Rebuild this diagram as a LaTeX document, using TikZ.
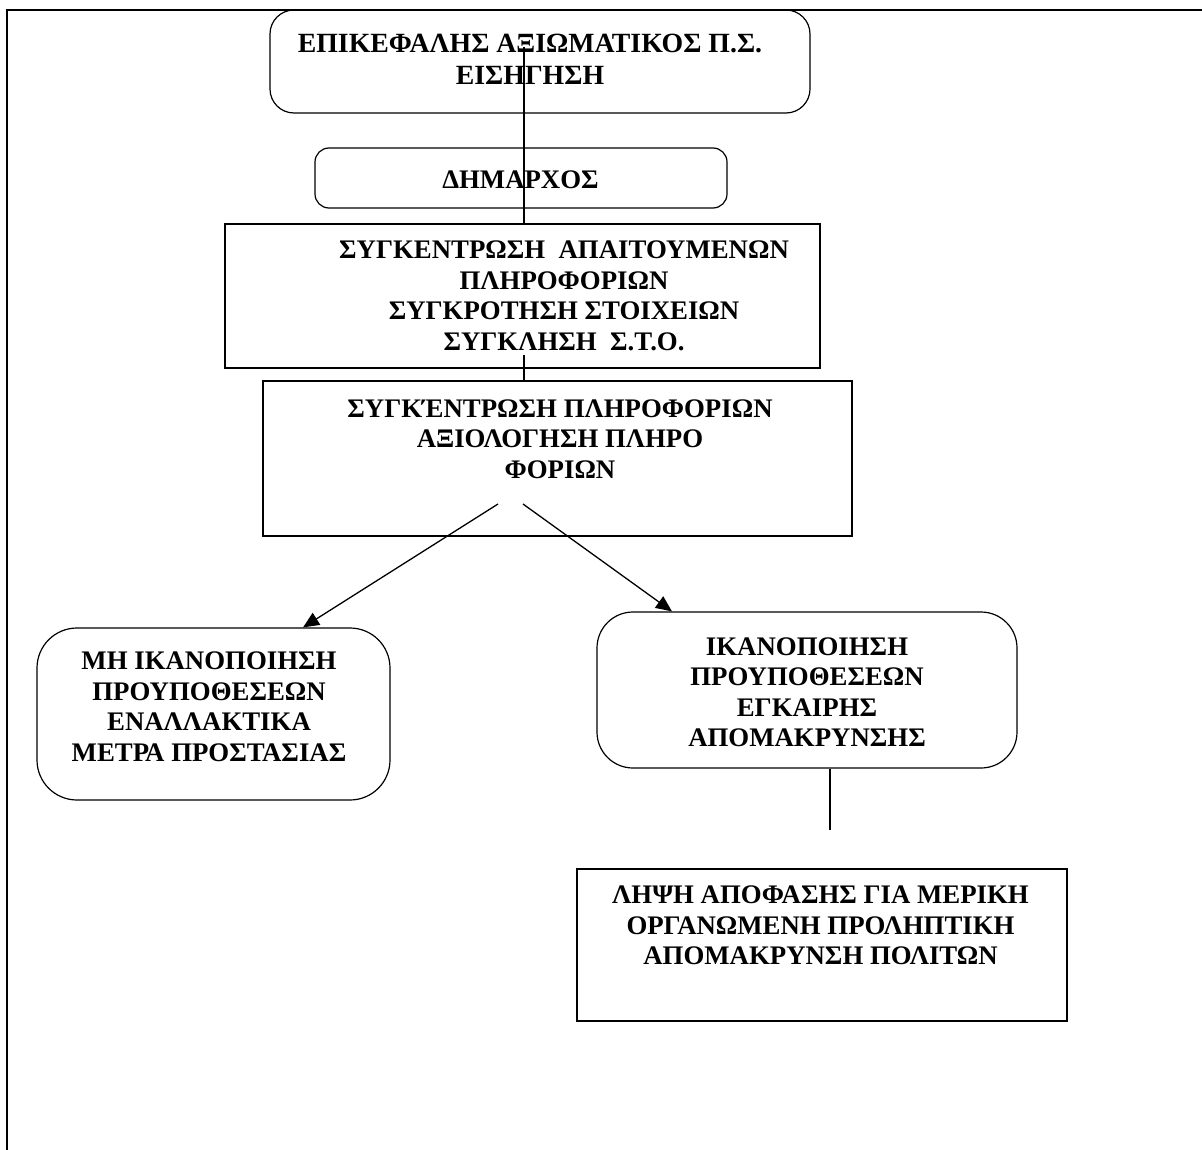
\documentclass[tikz,border=0pt]{standalone}
\usepackage{fontspec}
\setmainfont{Liberation Serif}
\usetikzlibrary{arrows.meta}
\begin{document}
\begin{tikzpicture}[x=1pt,y=-1pt,
  boxline/.style={draw=black,line width=1.2pt,inner sep=0pt},
  rbox/.style={boxline,rounded corners=#1},
  txt/.style={align=center,inner sep=0pt,font=\bfseries\fontsize{26.8}{30.5}\selectfont},
  conn/.style={line width=1.3pt},
  arr/.style={line width=1.3pt,-{Triangle[length=16pt,width=14pt]}}]
\useasboundingbox (0,0) rectangle (1202,1150);
% frame
\draw[line width=2.5pt] (1202,10) -- (7,10) -- (7,1150);
% boxes
\node[rbox=24pt,minimum width=540pt,minimum height=103pt] (b1) at (540,61.5) {};
\node[rbox=14pt,minimum width=412pt,minimum height=60pt] (b2) at (521,178) {};
\node[boxline,minimum width=595pt,minimum height=144pt] (b3) at (522.5,296) {};
\node[boxline,minimum width=589pt,minimum height=155pt] (b4) at (557.5,458.5) {};
\node[rbox=40pt,minimum width=353pt,minimum height=172pt] (b5) at (213.5,714) {};
\node[rbox=36pt,minimum width=420pt,minimum height=156pt] (b6) at (807,690) {};
\node[boxline,minimum width=490pt,minimum height=152pt] (b7) at (822,945) {};
% texts
\node[txt,font=\bfseries\fontsize{27.8}{32}\selectfont] (t1) at (530,59.5) {ΕΠΙΚΕΦΑΛΗΣ ΑΞΙΩΜΑΤΙΚΟΣ Π.Σ.\\ΕΙΣΗΓΗΣΗ};
\node[txt] (t2) at (520.5,180) {ΔΗΜΑΡΧΟΣ};
\node[txt] (t3) at (564,296) {ΣΥΓΚΕΝΤΡΩΣΗ\ \ ΑΠΑΙΤΟΥΜΕΝΩΝ\\ΠΛΗΡΟΦΟΡΙΩΝ\\ΣΥΓΚΡΟΤΗΣΗ ΣΤΟΙΧΕΙΩΝ\\ΣΥΓΚΛΗΣΗ\ \ Σ.Τ.Ο.};
\node[txt] (t4) at (560,439) {ΣΥΓΚΈΝΤΡΩΣΗ ΠΛΗΡΟΦΟΡΙΩΝ\\ΑΞΙΟΛΟΓΗΣΗ ΠΛΗΡΟ\\ΦΟΡΙΩΝ};
\node[txt] (t5) at (209,707) {ΜΗ ΙΚΑΝΟΠΟΙΗΣΗ\\ΠΡΟΥΠΟΘΕΣΕΩΝ\\ΕΝΑΛΛΑΚΤΙΚΑ\\ΜΕΤΡΑ ΠΡΟΣΤΑΣΙΑΣ};
\node[txt] (t6) at (807,692.5) {ΙΚΑΝΟΠΟΙΗΣΗ\\ΠΡΟΥΠΟΘΕΣΕΩΝ\\ΕΓΚΑΙΡΗΣ\\ΑΠΟΜΑΚΡΥΝΣΗΣ};
\node[txt] (t7) at (820.5,925.5) {ΛΗΨΗ ΑΠΟΦΑΣΗΣ ΓΙΑ ΜΕΡΙΚΗ\\ΟΡΓΑΝΩΜΕΝΗ ΠΡΟΛΗΠΤΙΚΗ\\ΑΠΟΜΑΚΡΥΝΣΗ ΠΟΛΙΤΩΝ};
% connectors
\coordinate (c1) at (524,47);
\coordinate (c2) at (524,355);
\coordinate (c3) at (498,504);
\coordinate (c4) at (523,504);
\coordinate (c5) at (830,830);
\coordinate (e5) at (303,628);
\coordinate (e6) at (672,612);
\draw[conn] (c1) -- (c1 |- b3.north);
\draw[conn] (c2) -- (c2 |- b4.north);
\draw[arr] (c3) -- (e5 |- b5.north);
\draw[arr] (c4) -- (e6 |- b6.north);
\draw[conn] (c5 |- b6.south) -- (c5);
\end{tikzpicture}
\end{document}
